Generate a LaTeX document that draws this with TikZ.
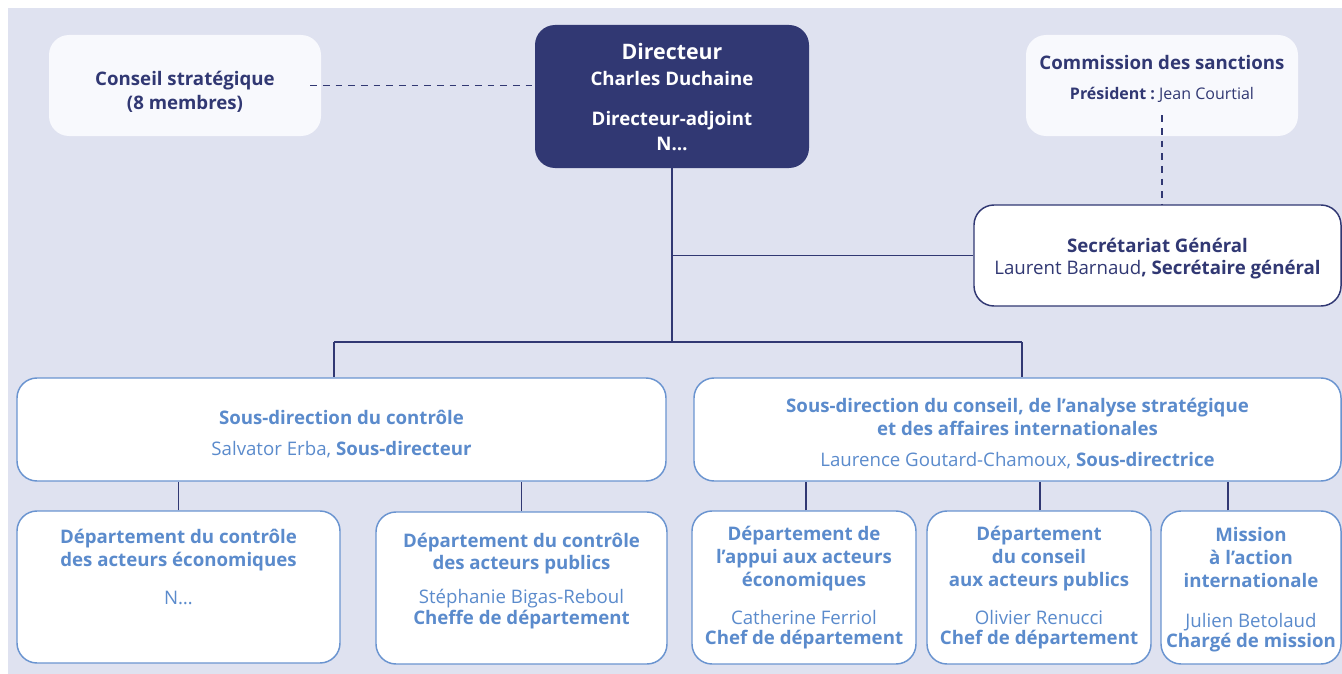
\documentclass[tikz,border=0pt]{standalone}
\usepackage{fontspec}
\setmainfont{Open Sans}
\definecolor{bgc}{HTML}{DFE2F0}
\definecolor{navy}{HTML}{313873}
\definecolor{pale}{HTML}{F8F9FD}
\definecolor{bluet}{HTML}{5B8BCC}
\definecolor{blueb}{HTML}{6A94D0}
\newcommand\fT{\fontsize{14pt}{17.25pt}\selectfont}
\newcommand\fS{\fontsize{12pt}{14pt}\selectfont}
\newcommand\fB{\fontsize{16pt}{19pt}\selectfont}
\newcommand\tp[1]{\rule{0pt}{#1}}
\begin{document}
\begin{tikzpicture}[x=0.75pt,y=-0.75pt,
  box/.style={rounded corners=15pt, inner sep=0pt, align=center, font=\fT},
  dpth/.style={execute at end node={\rule[-#1]{0pt}{0pt}}},
  paleb/.style={box, fill=pale, text=navy},
  navyb/.style={box, fill=navy, text=white},
  sgb/.style={box, fill=white, draw=navy, line width=1.1pt, text=navy},
  blueb/.style={box, fill=white, draw=blueb, line width=1.1pt, text=bluet},
  link/.style={draw=navy, line width=1.1pt},
  dlink/.style={link, dash pattern=on 5pt off 4.5pt}
]
\useasboundingbox (0,0) rectangle (1342,674);
\fill[bgc] (8,8) rectangle (1342,674);

\node[paleb, dpth=7pt, minimum width=204pt, minimum height=75.75pt] (cons) at (185,85.5)
  {\tp{25pt}\bfseries Conseil stratégique\\\bfseries (8 membres)};
\node[navyb, dpth=9.6pt, minimum width=205.5pt, minimum height=107.25pt] (dir) at (672,96.5)
  {{\fB\tp{22.4pt}\bfseries Directeur}\\[2.25pt]\bfseries Charles Duchaine\\[12.75pt]\bfseries Directeur-adjoint\\[1.5pt]\bfseries N…};
\node[paleb, dpth=17.1pt, minimum width=204pt, minimum height=75.75pt] (comm) at (1162,85.5)
  {\tp{14.9pt}\bfseries Commission des sanctions\\[5.25pt]{\fS\bfseries Président :\mdseries\ Jean Courtial}};
\node[sgb, dpth=10pt, minimum width=275.25pt, minimum height=75.75pt] (sg) at (1157.5,255.5)
  {\tp{22pt}\bfseries Secrétariat Général\\[-0.75pt]Laurent Barnaud\textbf{, Secrétaire général}};

\node[blueb, dpth=8.5pt, minimum width=486.75pt, minimum height=77.25pt] (sdc) at (341.5,429.5)
  {\tp{23.5pt}\bfseries Sous-direction du contrôle\\[6pt]Salvator Erba, \textbf{Sous-directeur}};
\node[blueb, dpth=8.2pt, minimum width=485.25pt, minimum height=77.25pt] (sdi) at (1017.5,429.5)
  {\tp{23.8pt}\bfseries Sous-direction du conseil, de l’analyse stratégique\\\bfseries et des affaires internationales\\[6pt]Laurence Goutard-Chamoux, \textbf{Sous-directrice}};

\node[blueb, dpth=34.2pt, minimum width=242.25pt, minimum height=114pt] (d1) at (178.5,587)
  {\tp{14pt}\bfseries Département du contrôle\\\bfseries des acteurs économiques\\[11.25pt]N…};
\node[blueb, dpth=17.15pt, minimum width=218.25pt, minimum height=114pt] (d2) at (521.5,588)
  {\tp{14.85pt}\bfseries Département du contrôle\\[-0.75pt]\bfseries des acteurs publics\\[8.25pt]Stéphanie Bigas-Reboul\\[-1.5pt]\bfseries Cheffe de département};
\node[blueb, dpth=11.9pt, minimum width=168pt, minimum height=114.75pt] (dA) at (804,587.5)
  {\tp{20.1pt}\bfseries Département de\\\bfseries l’appui aux acteurs\\\bfseries économiques\\[11.25pt]Catherine Ferriol\\[-2.25pt]\bfseries Chef de département};
\node[blueb, dpth=11.9pt, minimum width=168pt, minimum height=114.75pt] (dB) at (1039,587.5)
  {\tp{20.1pt}\bfseries Département\\\bfseries du conseil\\\bfseries aux acteurs publics\\[11.25pt]Olivier Renucci\\[-2.25pt]\bfseries Chef de département};
\node[blueb, dpth=10.4pt, minimum width=135pt, minimum height=114.75pt] (dC) at (1251,587.5)
  {\tp{21.6pt}\bfseries Mission\\\bfseries à l’action\\\bfseries internationale\\[12.75pt]Julien Betolaud\\[-2.25pt]\bfseries Chargé de mission};

% connectors
\coordinate (cs) at ([xshift=-8.25pt]cons.east);
\draw[dlink] (cs) -- (cs -| dir.west);
\coordinate (ct) at ([yshift=15.75pt]comm.south);
\draw[dlink] (ct) -- (ct |- sg.north);
\coordinate (j) at (672,342);
\coordinate (jl) at (334,342);
\coordinate (jr) at (1022,342);
\draw[link] (dir.south) -- (j);
\draw[link] (dir.south |- sg.west) -- (sg.west);
\draw[link] (jl) -- (jr);
\draw[link] (jl) -- (jl |- sdc.north);
\draw[link] (jr) -- (jr |- sdi.north);
\draw[link] (d1.north) -- (d1.north |- sdc.south);
\draw[link] (d2.north) -- (d2.north |- sdc.south);
\coordinate (cA) at ([xshift=1.5pt]dA.north);
\draw[link] (cA) -- (cA |- sdi.south);
\coordinate (cB) at ([xshift=0.75pt]dB.north);
\draw[link] (cB) -- (cB |- sdi.south);
\coordinate (cC) at ([xshift=-17.25pt]dC.north);
\draw[link] (cC) -- (cC |- sdi.south);
\end{tikzpicture}
\end{document}
